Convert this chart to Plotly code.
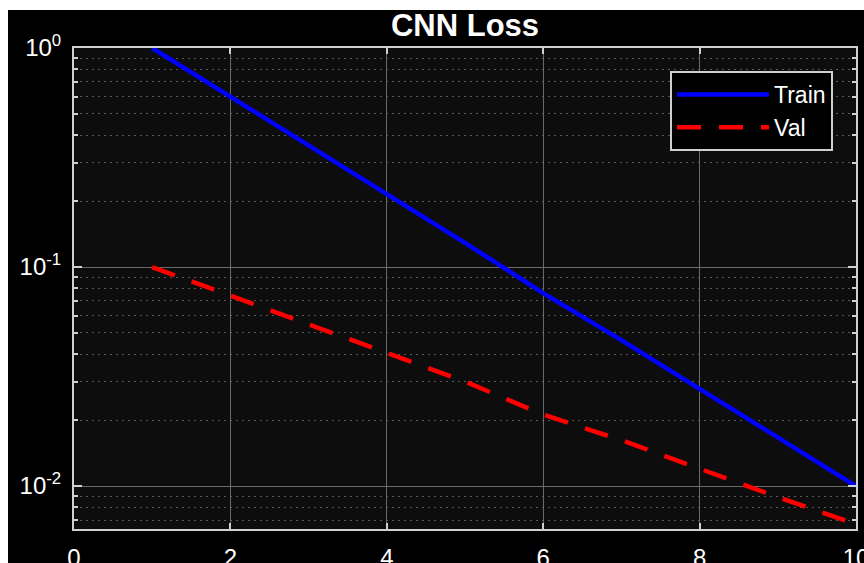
import plotly.graph_objects as go

epochs = [1, 2, 3, 4, 5, 6, 7, 8, 9, 10]
train_loss = [1.0, 0.60, 0.36, 0.215, 0.129, 0.076, 0.0464, 0.0278, 0.0167, 0.0100]
val_loss = [0.100, 0.074, 0.055, 0.041, 0.030, 0.0212, 0.0162, 0.0120, 0.0089, 0.0067]

x_ticks = [0, 2, 4, 6, 8, 10]
y_tickvals = [1, 0.1, 0.01]
y_ticktext = ["10<sup>0</sup>", "10<sup>-1</sup>", "10<sup>-2</sup>"]
y_minor = [m * 10.0 ** e for e in (-3, -2, -1) for m in range(2, 10)]

FONT = "Liberation Sans, Arial, sans-serif"
W, H = 864, 563
L, R, T, B = 74, 8, 48, 34
pw, ph = W - L - R, H - T - B

fig = go.Figure()
fig.add_trace(go.Scatter(x=epochs, y=train_loss, mode="lines", name="Train",
                         line=dict(color="#0000ff", width=4.5)))
fig.add_trace(go.Scatter(x=epochs, y=val_loss, mode="lines", name="Val",
                         line=dict(color="#ff0000", width=4.5, dash="24px,18px")))

def px_x(p):
    return (p - L) / pw

def px_y(p):
    return (H - B - p) / ph

# white strips at top and left (cropped figure edge)
fig.add_shape(type="rect", xref="paper", yref="paper",
              x0=px_x(0), x1=px_x(W), y0=px_y(10), y1=px_y(0),
              fillcolor="white", line_width=0, layer="below")
fig.add_shape(type="rect", xref="paper", yref="paper",
              x0=px_x(0), x1=px_x(8), y0=px_y(H), y1=px_y(0),
              fillcolor="white", line_width=0, layer="below")

axis_common = dict(
    showline=True, linecolor="#cfcfcf", linewidth=2, mirror="allticks",
    ticks="inside", tickcolor="#cfcfcf", tickwidth=1.5,
    tickfont=dict(family=FONT, size=24, color="white"),
    zeroline=False, automargin=False, ticklabeloverflow="allow",
)

fig.update_xaxes(
    range=[0, 10], tickvals=x_ticks, ticklen=6, ticklabelstandoff=6,
    showgrid=True, gridcolor="#6a6a6a", gridwidth=1,
    **axis_common,
)
fig.update_yaxes(
    type="log", range=[-2.196, 0],
    tickvals=y_tickvals, ticktext=y_ticktext, ticklen=8, ticklabelstandoff=6,
    showgrid=True, gridcolor="#6a6a6a", gridwidth=1,
    minor=dict(tickvals=y_minor, ticks="inside", ticklen=4, tickcolor="#cfcfcf",
               showgrid=True, gridcolor="#5a5a5a", griddash="2px,4px", gridwidth=1),
    **axis_common,
)

fig.update_layout(
    width=W, height=H,
    margin=dict(l=L, r=R, t=T, b=B, pad=0),
    paper_bgcolor="black",
    plot_bgcolor="#0d0d0d",
    title=dict(text="<b>CNN Loss</b>", x=(L + pw / 2) / W,
               xanchor="center", xref="container",
               y=1 - 25 / H, yanchor="middle", yref="container",
               font=dict(family=FONT, size=31, color="white")),
    legend=dict(x=px_x(833), xanchor="right", y=px_y(71), yanchor="top",
                bgcolor="black", bordercolor="#cfcfcf", borderwidth=2,
                font=dict(family=FONT, size=23, color="white"),
                itemwidth=92, tracegroupgap=0),
    showlegend=True,
)

fig.write_html("out.html")
